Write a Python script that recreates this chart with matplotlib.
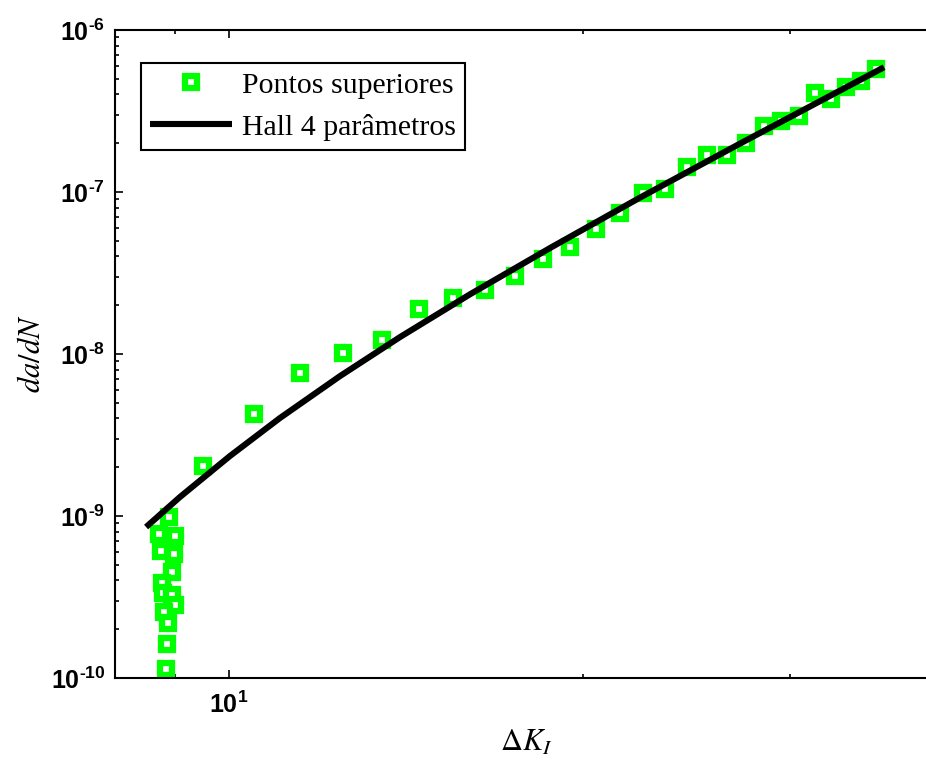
import matplotlib
matplotlib.use("Agg")
import matplotlib.pyplot as plt
from matplotlib.ticker import LogLocator, FuncFormatter, NullFormatter
import numpy as np

plt.rcParams['mathtext.fontset'] = 'custom'
plt.rcParams['mathtext.rm'] = 'Liberation Sans:bold'
plt.rcParams['mathtext.it'] = 'Liberation Sans:bold'
plt.rcParams['mathtext.bf'] = 'Liberation Sans:bold'

# Data: "Pontos superiores"
dk_pts = [8.90, 8.72, 8.99, 8.75, 8.98, 8.94, 8.77, 8.78, 8.94, 9.00, 8.81, 8.88, 8.85, 8.84,
          9.5, 10.5, 11.5, 12.5, 13.5, 14.5, 15.5, 16.5, 17.5, 18.5, 19.5, 20.5, 21.5, 22.5,
          23.5, 24.5, 25.5, 26.5, 27.5, 28.5, 29.5, 30.5, 31.5, 32.5, 33.5, 34.5, 35.5]
dadn_pts = [9.90e-10, 7.71e-10, 7.52e-10, 6.08e-10, 5.83e-10, 4.51e-10, 3.84e-10, 3.33e-10,
            3.25e-10, 2.82e-10, 2.57e-10, 2.18e-10, 1.61e-10, 1.136e-10,
            2.035e-9, 4.28e-9, 7.66e-9, 1.019e-8, 1.22e-8, 1.887e-8, 2.21e-8, 2.49e-8,
            3.04e-8, 3.84e-8, 4.56e-8, 5.89e-8, 7.45e-8, 9.82e-8, 1.043e-7, 1.421e-7,
            1.685e-7, 1.70e-7, 2.006e-7, 2.566e-7, 2.755e-7, 2.944e-7, 4.10e-7, 3.735e-7,
            4.445e-7, 4.86e-7, 5.77e-7]

# "Hall 4 parâmetros" curve
dk_hall = [8.502, 9.085, 10.02, 11.05, 12.43, 13.98, 16.03, 18.75, 22.36, 27.20, 36.06]
dadn_hall = [8.55e-10, 1.310e-9, 2.347e-9, 4.026e-9, 7.31e-9, 1.273e-8, 2.336e-8,
             4.51e-8, 9.23e-8, 1.990e-7, 5.89e-7]

legend_labels = ['Pontos superiores', 'Hall 4 parâmetros']

fig = plt.figure(figsize=(9.26, 7.61), dpi=100)
ax = fig.add_axes([115/926, 83/761, 822/926, 648/761])

ax.plot(dk_pts, dadn_pts, linestyle='none', marker='s', markersize=8.5,
        markerfacecolor='white', markeredgecolor='#00ff00', markeredgewidth=4.5,
        label=legend_labels[0], zorder=2)
ax.plot(dk_hall, dadn_hall, color='black', linewidth=4.4, label=legend_labels[1],
        solid_capstyle='butt', zorder=3)

ax.set_xscale('log')
ax.set_yscale('log')
ax.set_xlim(8, 40)
ax.set_ylim(1e-10, 1e-6)

ax.xaxis.set_major_locator(LogLocator(base=10, numticks=10))
ax.xaxis.set_minor_locator(LogLocator(base=10, subs=np.arange(2, 10), numticks=20))
ax.yaxis.set_major_locator(LogLocator(base=10, numticks=10))
ax.yaxis.set_minor_locator(LogLocator(base=10, subs=np.arange(2, 10), numticks=20))

def fmt(v, pos):
    e = int(np.round(np.log10(v)))
    if e < 0:
        return r'$10^{\text{-}%d}$' % (-e)
    return r'$10^{%d}$' % e

ax.xaxis.set_major_formatter(FuncFormatter(fmt))
ax.yaxis.set_major_formatter(FuncFormatter(fmt))
ax.xaxis.set_minor_formatter(NullFormatter())
ax.yaxis.set_minor_formatter(NullFormatter())

ax.tick_params(which='both', direction='in', top=True, right=False, width=1.2,
               labelsize=18)
ax.tick_params(which='major', length=5.8)
ax.tick_params(which='minor', length=2.9)
ax.tick_params(axis='x', pad=10)
ax.tick_params(axis='y', pad=7)
for s in ['left', 'bottom', 'top']:
    ax.spines[s].set_linewidth(1.5)
ax.spines['right'].set_visible(False)

xl = ax.set_xlabel(r'$\Delta K_I$', fontsize=22, labelpad=7)
xl.set_math_fontfamily('stix')
yl = ax.set_ylabel(r'$da/dN$', fontsize=22, labelpad=3)
yl.set_math_fontfamily('stix')

leg = ax.legend(loc='upper left', bbox_to_anchor=((141 - 115) / 822, 1 - (63 - 30) / 648),
                numpoints=1, frameon=True, fancybox=False, shadow=False,
                prop={'family': 'Liberation Serif', 'size': 21.5},
                handlelength=2.74, handletextpad=0.33, borderpad=0.3,
                labelspacing=0.5, borderaxespad=0.0)
leg.get_frame().set_edgecolor('black')
leg.get_frame().set_linewidth(1.5)
leg.get_frame().set_alpha(1)

fig.savefig('out.png', dpi=100)
